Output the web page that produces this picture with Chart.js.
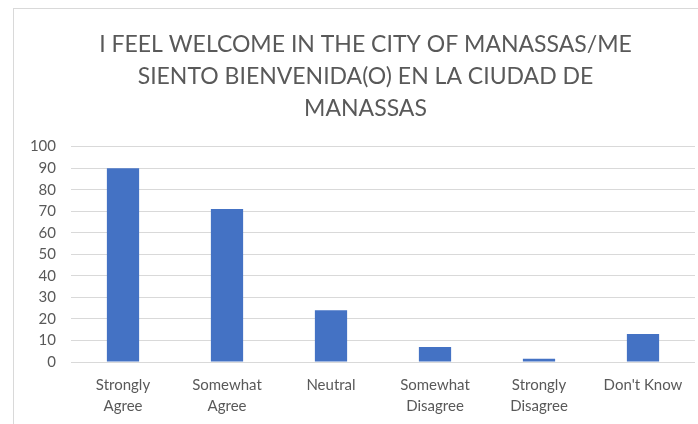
<!DOCTYPE html>
<html>
<head>
<meta charset="utf-8">
<script src="https://cdn.jsdelivr.net/npm/chart.js@4"></script>
<style>
  html, body { margin: 0; padding: 0; background: #fff; }
  #wrap { position: relative; width: 698px; height: 424px; overflow: hidden; }
  #frame { position: absolute; left: 13px; top: 8px; width: 720px; height: 440px; border: 1px solid #d9d9d9; box-sizing: border-box; }
  canvas { position: absolute; left: 0; top: 0; }
</style>
</head>
<body>
<div id="wrap">
  <div id="frame"></div>
  <canvas id="chart" width="698" height="424"></canvas>
</div>
<script>
// chart data
const titleLines = ['I FEEL WELCOME IN THE CITY OF MANASSAS/ME', 'SIENTO BIENVENIDA(O) EN LA CIUDAD DE', 'MANASSAS'];
const categories = [['Strongly', 'Agree'], ['Somewhat', 'Agree'], 'Neutral', ['Somewhat', 'Disagree'], ['Strongly', 'Disagree'], "Don't Know"];
const responses = [90, 71, 24, 7, 1.5, 13];
const yTicks = [0, 10, 20, 30, 40, 50, 60, 70, 80, 90, 100];

const textGray = '#595959';
const fontFamily = 'Lato, "Open Sans", sans-serif';

// the original box is wider than the picture, so its title sits right of centre
const shiftTitle = {
    id: 'shiftTitle',
    afterLayout(chart) {
        const t = chart.titleBlock;
        if (t) { t.left = 36; t.right = 695; }
    }
};

const ctx = document.getElementById('chart').getContext('2d');
new Chart(ctx, {
    type: 'bar',
    data: {
        labels: categories,
        datasets: [{
            data: responses,
            backgroundColor: '#4472c4',
            barPercentage: 0.31,
            categoryPercentage: 1
        }]
    },
    options: {
        responsive: false,
        animation: false,
        layout: { padding: { top: 0, right: 3, bottom: 0, left: 0 } },
        plugins: {
            legend: { display: false },
            tooltip: { enabled: false },
            title: {
                display: true,
                text: titleLines,
                color: textGray,
                font: { family: fontFamily, size: 23, weight: 'normal', lineHeight: 1.4 },
                padding: { top: 28, bottom: 22 }
            }
        },
        scales: {
            x: {
                grid: { display: false, drawTicks: false },
                border: { display: false },
                ticks: { color: textGray, font: { family: fontFamily, size: 15, lineHeight: 1.45 }, padding: 12, maxRotation: 0, autoSkip: false },
                afterFit: (scale) => { scale.height = 62; }
            },
            y: {
                min: 0,
                max: 100,
                afterBuildTicks: (scale) => { scale.ticks = yTicks.map(v => ({ value: v })); },
                grid: { color: '#d9d9d9', lineWidth: 1, drawTicks: false },
                border: { display: false },
                ticks: { color: textGray, font: { family: fontFamily, size: 15 }, padding: 15 },
                afterFit: (scale) => { scale.width = 71; }
            }
        }
    },
    plugins: [shiftTitle]
});
</script>
</body>
</html>
